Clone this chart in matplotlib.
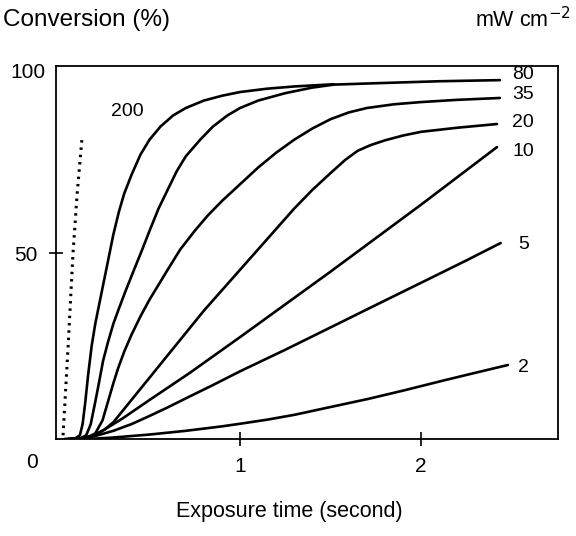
import matplotlib.pyplot as plt

plt.rcParams['font.family'] = ['Liberation Sans', 'DejaVu Sans']

W, H = 576, 536

# exposure time (s) vs conversion (%) for each light intensity (mW cm-2)
t_200 = [0.03, 0.09, 0.115, 0.13, 0.145, 0.16, 0.18, 0.2, 0.225, 0.25, 0.275,
         0.3, 0.33, 0.36, 0.4, 0.45, 0.5, 0.56, 0.63, 0.7, 0.8, 0.9, 1.0,
         1.15, 1.3, 1.52]
c_200 = [0, 0.2, 1, 4, 10, 17, 25, 31, 37, 43, 49,
         55, 61, 66, 71, 76.5, 80.5, 84, 87, 89, 91, 92.3, 93.3,
         94.2, 94.8, 95.4]

t_80 = [0.05, 0.12, 0.15, 0.175, 0.2, 0.22, 0.243, 0.27, 0.3, 0.33, 0.365,
        0.41, 0.46, 0.5, 0.55, 0.6, 0.65, 0.7, 0.78, 0.85, 0.93, 1.0, 1.1,
        1.25, 1.4, 1.52, 1.77, 2.1, 2.436]
c_80 = [0, 0.2, 1, 4, 10, 15, 21, 26, 31, 35, 39.5,
        45, 51, 56, 62, 67, 72, 76, 80.5, 84, 87, 89, 91,
        93, 94.5, 95.3, 95.7, 96.2, 96.5]

t_35 = [0.07, 0.15, 0.2, 0.24, 0.27, 0.3, 0.326, 0.36, 0.4, 0.45, 0.5,
        0.55, 0.6, 0.67, 0.75, 0.82, 0.9, 1.0, 1.1, 1.2, 1.3, 1.4, 1.5,
        1.6, 1.7, 1.85, 2.0, 2.2, 2.436]
c_35 = [0, 0.3, 1.5, 5, 10, 15, 19, 23.5, 28, 33, 37.5,
        41.5, 45.5, 51, 56, 60, 64, 68.5, 73, 77, 80.5, 83.5, 86,
        87.8, 89, 90, 90.6, 91.2, 91.7]

t_20 = [0.08, 0.15, 0.2, 0.25, 0.3, 0.35, 0.4, 0.5, 0.6, 0.7, 0.8, 0.9,
        1.0, 1.1, 1.2, 1.3, 1.4, 1.5, 1.58, 1.65, 1.72, 1.8, 1.9, 2.0,
        2.2, 2.42]
c_20 = [0, 0.3, 1, 2.5, 4.5, 7.5, 10.5, 16.5, 22.5, 28.5, 34.5, 40,
        45.5, 51, 56.5, 62, 67, 71.5, 75, 77.5, 79, 80.3, 81.6, 82.6,
        83.7, 84.7]

t_10 = [0.1, 0.18, 0.25, 0.35, 0.5, 0.72, 1.0, 1.5, 2.0, 2.42]
c_10 = [0, 0.8, 2.5, 5.5, 10.5, 17.7, 27.4, 45, 63, 78.5]

t_5 = [0.1, 0.2, 0.3, 0.4, 0.5, 0.6, 0.72, 0.85, 1.0, 1.25, 1.5, 1.77,
       2.0, 2.25, 2.44]
c_5 = [0, 0.8, 2.2, 4, 6.2, 8.5, 11.4, 14.5, 18.2, 24, 30, 36.5,
       42, 48, 52.7]

t_2 = [0.05, 0.2, 0.3, 0.4, 0.5, 0.6, 0.7, 0.8, 0.9, 1.0, 1.15, 1.3, 1.5,
       1.71, 1.9, 2.13, 2.3, 2.48]
c_2 = [0, 0.1, 0.4, 0.8, 1.2, 1.7, 2.2, 2.8, 3.4, 4.1, 5.2, 6.5, 8.6,
       10.8, 13, 15.8, 17.8, 19.9]

# dotted line
t_dot = [0.022, 0.05, 0.077, 0.10, 0.127]
c_dot = [1, 25, 50, 66, 81]

curve_labels = ['80', '35', '20', '10', '5', '2']
label_y = [97.9, 92.6, 85.2, 77.2, 52.2, 19.1]


def fx(px):
    return px / W


def fy(py):
    return 1 - py / H


fig = plt.figure(figsize=(W / 100, H / 100), dpi=100)
ax = fig.add_axes([fx(56), fy(439), fx(558) - fx(56), fy(66) - fy(439)])

lw = 1.9
for t, c in [(t_200, c_200), (t_80, c_80), (t_35, c_35), (t_20, c_20),
             (t_10, c_10), (t_5, c_5), (t_2, c_2)]:
    ax.plot(t, c, color='black', lw=lw, solid_capstyle='round',
            solid_joinstyle='round')
ax.plot(t_dot, c_dot, color='black', lw=2.2, linestyle=(0, (0.8, 1.6)))

for lab, y in zip(curve_labels, label_y):
    ax.text(2.565, y, lab, ha='center', va='center', fontsize=14)
ax.text(0.376, 88, '200', ha='center', va='center', fontsize=14)

ax.set_xlim(-0.017, 2.757)
ax.set_ylim(0, 100.3)
ax.set_xticks([1, 2])
ax.set_yticks([50])
ax.tick_params(direction='inout', length=10, width=1.2, labelsize=15, pad=8)
for s in ax.spines.values():
    s.set_linewidth(1.3)

fig.text(fx(45), fy(73), '100', ha='right', va='center', fontsize=15)
fig.text(fx(32), fy(463), '0', ha='center', va='center', fontsize=15)
fig.text(fx(3), fy(20), 'Conversion (%)', ha='left', va='center', fontsize=17.5)
fig.text(fx(571), fy(20), r'mW cm$^{-2}$', ha='right', va='center', fontsize=15.5)
fig.text(fx(289), fy(512), 'Exposure time (second)', ha='center', va='center',
         fontsize=15.5)

fig.savefig('out.png', dpi=100, facecolor='white')
